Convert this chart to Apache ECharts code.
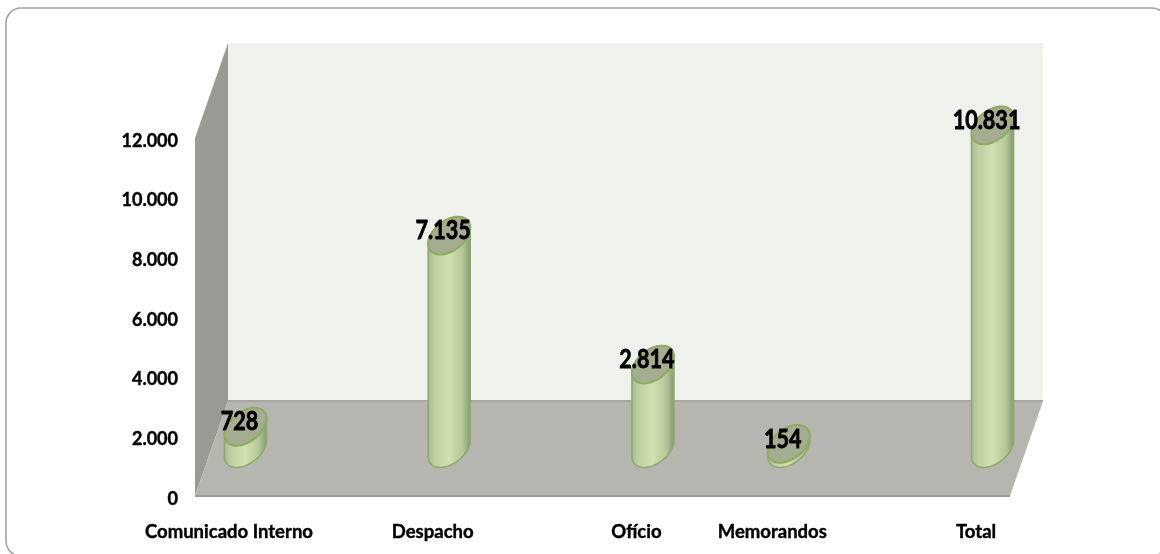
<!DOCTYPE html>
<html>
<head>
<meta charset="utf-8">
<style>html,body{margin:0;padding:0;background:#fff}#c{width:1160px;height:554px}</style>
<script src="https://cdn.jsdelivr.net/npm/echarts@6/dist/echarts.min.js"></script>
</head>
<body>
<div id="c"></div>
<script>
// Twelve equal slots on the category axis: only five are used in the reference.
const categories = ['Comunicado Interno','','','Despacho','','','Ofício','','Memorandos','','','Total'];
const values = [728,null,null,7135,null,null,2814,null,154,null,null,10831];
const yTicks = {min:0,max:12000,interval:2000};

const FONT = 'Lato,"Liberation Sans",sans-serif';
const DX = 33, DY = 95;          // depth of the 3D box
const A = 24, B = 15, TILT = 38 * Math.PI / 180;  // cylinder cap

function fmt(v){ return String(v).replace(/\B(?=(\d{3})+$)/g,'.'); }

function ellipsePt(cx,cy,t){
  const c=Math.cos(TILT), s=Math.sin(TILT);
  return [cx + A*Math.cos(t)*c + B*Math.sin(t)*s,
          cy - A*Math.cos(t)*s + B*Math.sin(t)*c];
}
function arcPts(cx,cy,t0,t1){
  const out=[], n=48;
  for(let i=0;i<=n;i++){ out.push(ellipsePt(cx,cy,t0+(t1-t0)*i/n)); }
  return out;
}

function renderWalls(params){
  const g=params.coordSys, l=g.x, r=g.x+g.width, t=g.y, b=g.y+g.height;
  return {type:'group',silent:true,children:[
    {type:'polygon',shape:{points:[[l+DX,t-DY],[r+DX,t-DY],[r+DX,b-DY],[l+DX,b-DY]]},style:{fill:'#eff2ec'}},
    {type:'polygon',shape:{points:[[l,t],[l+DX,t-DY],[l+DX,b-DY],[l,b]]},style:{fill:'#989b93'}},
    {type:'polygon',shape:{points:[[l,b],[r,b],[r+DX,b-DY],[l+DX,b-DY]]},style:{fill:'#b4b6af'}},
    {type:'line',shape:{x1:l+DX,y1:b-DY,x2:r+DX,y2:b-DY},style:{stroke:'#a5a7a0',lineWidth:2}},
    {type:'line',shape:{x1:l,y1:b,x2:r,y2:b},style:{stroke:'#9a9c96',lineWidth:2}}
  ]};
}

function renderCylinder(params,api){
  if(api.value(1)==null||isNaN(api.value(1))) return null;
  const base=api.coord([api.value(0),0]), top=api.coord([api.value(0),api.value(1)]);
  const cx=base[0]+DX/2, by=base[1]-DY/2, ty=top[1]-DY/2;
  const t0=Math.atan2(B*Math.sin(TILT),A*Math.cos(TILT)); // rightmost point parameter
  const body=arcPts(cx,by,t0,t0+Math.PI).concat(arcPts(cx,ty,t0+Math.PI,t0+2*Math.PI));
  return {type:'group',children:[
    {type:'polygon',shape:{points:body},style:{
      fill:new echarts.graphic.LinearGradient(0,0,1,0,[
        {offset:0,color:'#a3b78c'},{offset:0.15,color:'#bccfa0'},{offset:0.5,color:'#d0e1b0'},
        {offset:0.8,color:'#b5c898'},{offset:1,color:'#84966f'}]),
      stroke:'#8ea96a',lineWidth:1.5}},
    {type:'polygon',shape:{points:arcPts(cx,ty,0,2*Math.PI)},style:{fill:'#a4ad90',stroke:'#8fab62',lineWidth:2}},
    {type:'text',x:cx-6,y:ty-5,scaleX:0.8,style:{text:fmt(api.value(1)),fill:'#000',font:'bold 27px '+FONT,
      stroke:'#000',lineWidth:0.8,align:'center',verticalAlign:'middle'}}
  ]};
}

const chart=echarts.init(document.getElementById('c'),null,{renderer:'canvas'});
chart.setOption({
  animation:false,
  backgroundColor:'#fff',
  graphic:[{type:'rect',shape:{x:6,y:8,width:1161,height:548,r:15},style:{fill:'none',stroke:'#a3a3a3',lineWidth:1.6},silent:true,z:-1}],
  grid:{left:195,right:150,top:138,bottom:58},
  xAxis:{type:'category',data:categories,axisLine:{show:false},axisTick:{show:false},splitLine:{show:false},
    axisLabel:{interval:0,color:'#000',fontFamily:FONT,fontWeight:'bold',fontSize:18.5,margin:27,hideOverlap:false,
      textBorderColor:'#000',textBorderWidth:0.4}},
  yAxis:{type:'value',min:yTicks.min,max:yTicks.max,interval:yTicks.interval,axisLine:{show:false},axisTick:{show:false},splitLine:{show:false},
    axisLabel:{color:'#000',fontFamily:FONT,fontWeight:'bold',fontSize:18,margin:17,verticalAlign:'top',lineHeight:6,
      textBorderColor:'#000',textBorderWidth:0.4,formatter:fmt}},
  series:[
    {type:'custom',renderItem:renderWalls,data:[[0,0]],clip:false,silent:true,z:1,encode:{x:0,y:1}},
    {type:'custom',renderItem:renderCylinder,data:values.map((v,i)=>[i,v]),clip:false,z:2,encode:{x:0,y:1}}
  ]
});
</script>
</body>
</html>
